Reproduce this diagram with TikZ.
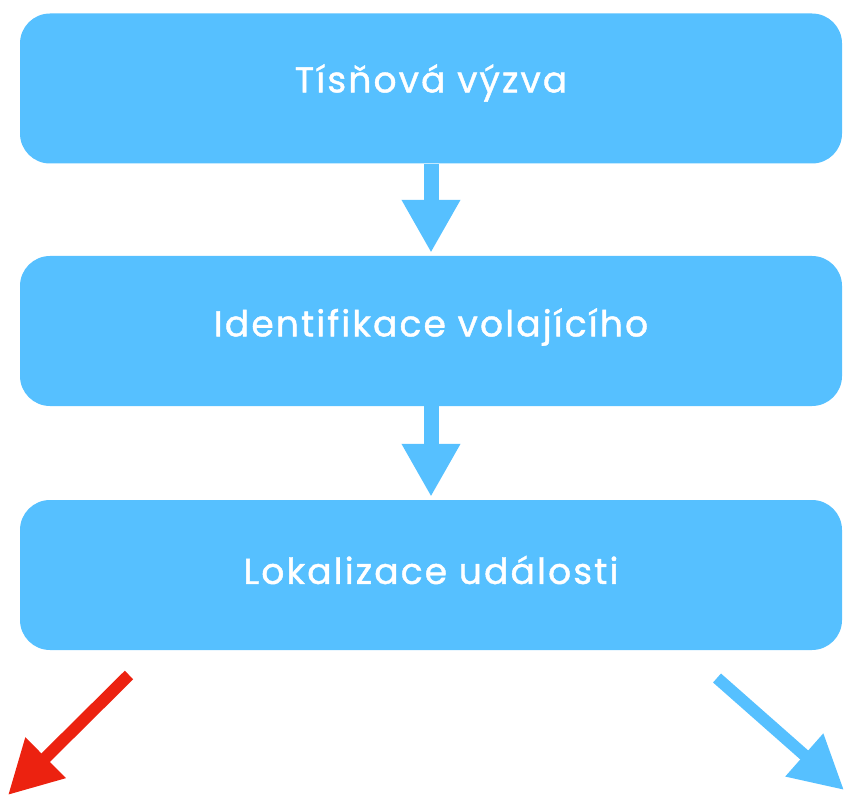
\documentclass[tikz,border=0pt]{standalone}
\usepackage{fontspec}
\setmainfont{Poppins}
\newfontfamily\boxfont[LetterSpace=6,FakeBold=1.2]{Poppins}
\usetikzlibrary{arrows.meta}
\definecolor{boxblue}{RGB}{86,192,255}
\definecolor{arrred}{RGB}{236,34,16}
\begin{document}
\begin{tikzpicture}[x=1pt,y=-1pt,
  stepbox/.style={fill=boxblue, rounded corners=30pt, minimum width=822pt, minimum height=150pt,
    inner sep=0pt},
  steptext/.style={text=white, inner sep=0pt, font=\boxfont\fontsize{36}{42}\selectfont},
  downarrow/.style={draw=boxblue, line width=15pt, -{Triangle[width=55pt,length=53pt]}, shorten >=3pt},
  diagarrow/.style={line width=12pt, -{Triangle[width=54pt,length=53pt]}}]
\useasboundingbox (0,0) rectangle (848,799);
\node[stepbox] (b1) at (431,88.5) {};
\node[stepbox] (b2) at (431,331) {};
\node[stepbox] (b3) at (431,575) {};
\node[steptext] (t1) at (431,83) {Tísňová výzva};
\node[steptext] (t2) at (431,327) {Identifikace volajícího};
\node[steptext] (t3) at (431,570) {Lokalizace události};
\draw[downarrow] (b1.south) -- (b2.north);
\draw[downarrow] (b2.south) -- (b3.north);
\coordinate (rs) at (129,675);
\coordinate (re) at (8,795);
\coordinate (bs) at (717,678);
\coordinate (be) at (844,790);
\draw[diagarrow, draw=arrred, fill=arrred] (rs) -- (re);
\draw[diagarrow, draw=boxblue, fill=boxblue] (bs) -- (be);
\end{tikzpicture}
\end{document}
